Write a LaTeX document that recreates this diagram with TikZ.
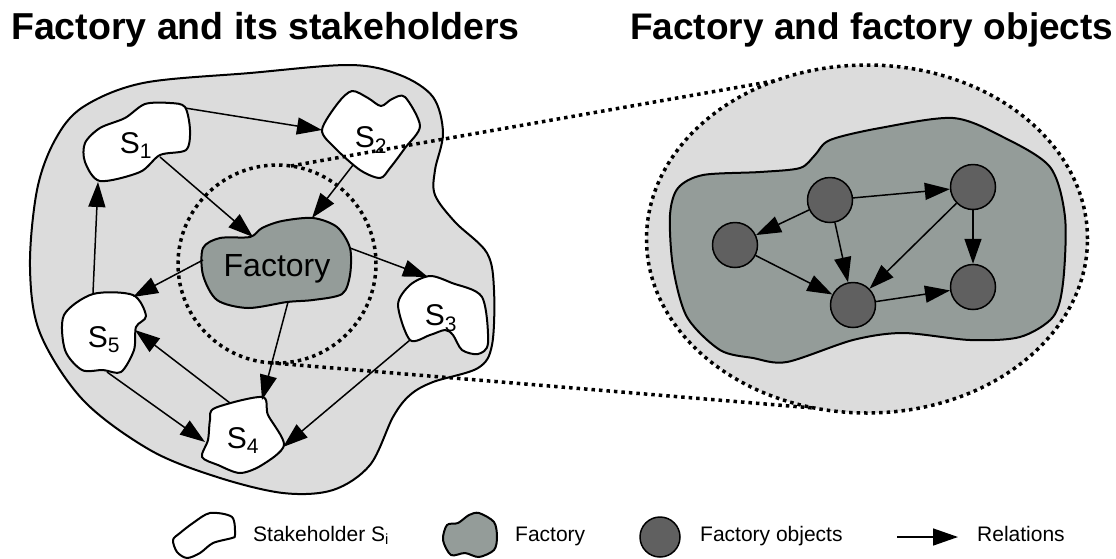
\documentclass[tikz,border=0pt]{standalone}
\usepackage{fontspec}
\setmainfont{Liberation Sans}
\usetikzlibrary{calc,arrows.meta,shapes.geometric}
\definecolor{bgc}{RGB}{220,220,220}
\definecolor{facc}{RGB}{148,156,153}
\definecolor{objc}{RGB}{96,96,96}
\begin{document}
\begin{tikzpicture}[x=1pt,y=-1pt,
  blobline/.style={line width=2pt, line join=round},
  rel/.style={line width=1.5pt, -{Triangle[length=25pt,width=17pt]}},
  dots/.style={line width=3.5pt, dash pattern=on 3.5pt off 4pt},
  lbl/.style={inner sep=0pt, anchor=base, font=\fontsize{30}{32}\selectfont},
  fobj/.style={circle, draw, line width=1.5pt, fill=objc, minimum size=45pt, inner sep=0pt},
  ttl/.style={inner sep=0pt, anchor=base west, font=\bfseries\fontsize{37}{40}\selectfont},
  leg/.style={inner sep=0pt, anchor=base west, font=\fontsize{21}{24}\selectfont}]
\useasboundingbox (0,0) rectangle (1116,558);

% titles
\node[ttl, font=\bfseries\fontsize{37.5}{40}\selectfont] (t1) at (11,39) {Factory and its stakeholders};
\node[ttl] (t2) at (630,39) {Factory and factory objects};

% outer stakeholder area
\draw[blobline, fill=bgc] plot[smooth cycle, tension=0.55] coordinates {(83,107) (143,83) (250,73) (350,65) (400,75) (433,97) (443,133) (435,170) (435,195) (455,222) (487,253) (494,290) (492,345) (478,368) (433,382) (410,395) (393,417) (370,465) (333,490) (283,493) (217,477) (150,450) (83,400) (40,333) (30,267) (37,190) (55,140)};

% dotted zoom circle
\node[circle, draw, dots, minimum size=198pt, inner sep=0pt, outer sep=0pt] (zc) at (277,264) {};

% blobs
\draw[blobline, fill=white] plot[smooth cycle, tension=0.5] coordinates {(85,143) (100,128) (125,118) (145,104) (170,103) (185,107) (190,130) (186,150) (160,155) (140,172) (100,181) (85,162)};
\draw[blobline, fill=white] plot[smooth cycle, tension=0.5] coordinates {(322,130) (338,103) (352,91) (368,98) (381,106) (392,99) (405,97) (420,126) (405,148) (390,168) (380,178) (360,170) (335,148)};
\draw[blobline, fill=facc] plot[smooth cycle, tension=0.5] coordinates {(203,248) (220,238) (250,237) (262,228) (282,221) (313,218) (337,227) (350,248) (350,275) (342,294) (313,300) (287,302) (248,308) (217,300) (203,275)};
\draw[blobline, fill=white] plot[smooth cycle, tension=0.5] coordinates {(398,305) (410,285) (430,276) (452,283) (482,297) (488,343) (478,354) (462,350) (453,335) (445,330) (430,335) (410,340)};
\draw[blobline, fill=white] plot[smooth cycle, tension=0.5] coordinates {(93,294) (133,295) (146,316) (136,327) (134,350) (121,372) (103,370) (82,370) (65,350) (64,315)};
\draw[blobline, fill=white] plot[smooth cycle, tension=0.5] coordinates {(215,408) (262,397) (268,415) (284,445) (262,465) (240,473) (218,465) (202,457) (208,440) (210,420)};

% labels
\node[lbl] (s1) at (136,153) {S\textsubscript{1}};
\node[lbl] (s2) at (371,147) {S\textsubscript{2}};
\node[lbl] (s3) at (441,325) {S\textsubscript{3}};
\node[lbl] (s4) at (243,448) {S\textsubscript{4}};
\node[lbl] (s5) at (104,347) {S\textsubscript{5}};
\node[lbl, font=\fontsize{32}{34}\selectfont] (fac) at (277,276) {Factory};

% relations
\draw[rel] ($(s1.base)+(49,-45)$) -- ($(s2.base)+(-49,-17)$);
\draw[rel] ($(s1.base)+(24,4)$) -- ($(fac.base)+(-24,-39)$);
\draw[rel] ($(s2.base)+(-18,18)$) -- ($(fac.base)+(35,-58)$);
\draw[rel] ($(fac.base)+(73,-28)$) -- ($(s3.base)+(-13,-48)$);
\draw[rel] ($(fac.base)+(-74,-16)$) -- ($(s5.base)+(29,-50)$);
\draw[rel] ($(fac.base)+(11,26)$) -- ($(s4.base)+(19,-48)$);
\draw[rel] ($(s5.base)+(-11,-54)$) -- ($(s1.base)+(-38,29)$);
\draw[rel] ($(s5.base)+(3,25)$) -- ($(s4.base)+(-38,-6)$);
\draw[rel] ($(s4.base)+(-13,-45)$) -- ($(s5.base)+(31,-17)$);
\draw[rel] ($(s3.base)+(-31,15)$) -- ($(s4.base)+(40,-1)$);

% right zoomed view
\node[ellipse, draw, dots, fill=bgc, minimum width=441pt, minimum height=348pt, inner sep=0pt, outer sep=0pt] (ze) at (867,239) {};
\draw[blobline, fill=facc] plot[smooth cycle, tension=0.5] coordinates {(670,215) (678,188) (703,175) (760,172) (800,168) (815,155) (830,140) (880,128) (953,118) (1003,137) (1050,167) (1065,217) (1063,283) (1053,317) (1020,337) (970,340) (903,333) (853,340) (787,362) (753,358) (720,350) (687,317) (673,267)};

\node[fobj] (oa) at (830,200) {};
\node[fobj] (ob) at (735,245) {};
\node[fobj] (oc) at (973,187) {};
\node[fobj] (od) at (853,305) {};
\node[fobj] (oe) at (973,287) {};
\draw[rel] (oa) -- (ob);
\draw[rel] (oa) -- (oc);
\draw[rel] (oa) -- (od);
\draw[rel] (ob) -- (od);
\draw[rel] (oc) -- (od);
\draw[rel] (oc) -- (oe);
\draw[rel] (od) -- (oe);

% zoom lines
\draw[dots] (zc.82.5) -- (ze.120);
\draw[dots] (zc.-94) -- (ze.-107.5);

% legend
\draw[blobline, fill=white] plot[smooth cycle, tension=0.5] coordinates {(193,523) (210,513) (232,517) (235,535) (232,538) (213,543) (200,553) (187,558) (177,552) (173,540) (180,533)};
\node[leg] (l1) at (253,541) {Stakeholder S\textsubscript{i}};
\draw[blobline, fill=facc] plot[smooth cycle, tension=0.5] coordinates {(447,525) (458,523) (469,515) (479,513) (494,522) (497,537) (494,550) (479,557) (465,553) (451,555) (443,540)};
\node[leg] (l2) at (515,541) {Factory};
\node[fobj, minimum size=40pt] (l3c) at (660,537) {};
\node[leg] (l3) at (700,541) {Factory objects};
\coordinate (la1) at (897,537);
\coordinate (la2) at (958,537);
\draw[rel] (la1) -- (la2);
\node[leg] (l4) at (977,541) {Relations};
\end{tikzpicture}
\end{document}
